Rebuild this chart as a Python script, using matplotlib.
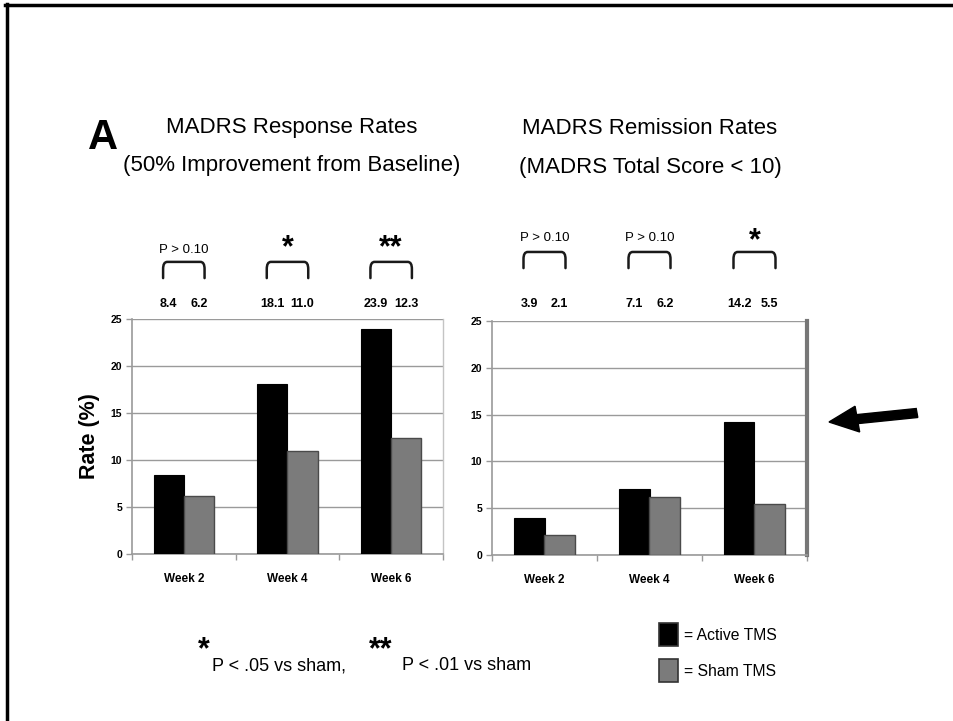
import matplotlib
matplotlib.use("Agg")
import matplotlib.pyplot as plt
import numpy as np
from matplotlib.path import Path
from matplotlib.patches import PathPatch, Rectangle, FancyArrow
from matplotlib.lines import Line2D

plt.rcParams['font.family'] = ['Liberation Sans', 'DejaVu Sans']

weeks = ["Week 2", "Week 4", "Week 6"]
response_active = [8.4, 18.1, 23.9]
response_sham = [6.2, 11.0, 12.3]
remission_active = [3.9, 7.1, 14.2]
remission_sham = [2.1, 6.2, 5.5]
response_sig = ["P > 0.10", "*", "**"]
remission_sig = ["P > 0.10", "P > 0.10", "*"]
yticks = [0, 5, 10, 15, 20, 25]

W, H = 954, 721
fig = plt.figure(figsize=(W / 100, H / 100), dpi=100)


def fx(px):
    return px / W


def fy(py):
    return 1 - py / H


BLACK = "#000000"
GREY = "#7b7b7b"
GRID = "#9a9a9a"


def bracket(ax, x0, x1, ytop, ybot):
    r = 0.04
    rv = 0.03
    verts = [(x0, ybot), (x0, ytop - rv), (x0, ytop), (x0 + r, ytop),
             (x1 - r, ytop), (x1, ytop), (x1, ytop - rv), (x1, ybot)]
    codes = [Path.MOVETO, Path.LINETO, Path.CURVE3, Path.CURVE3,
             Path.LINETO, Path.CURVE3, Path.CURVE3, Path.LINETO]
    p = PathPatch(Path(verts, codes), transform=ax.get_xaxis_transform(),
                  fill=False, lw=1.8, ec="#1a1a1a", clip_on=False,
                  capstyle="round")
    ax.add_patch(p)


def panel(rect, active, sham, sig, val_y, br_top, br_bot, sig_y, star_y,
          thick_right):
    ax = fig.add_axes(rect)
    x = np.arange(len(weeks)) + 0.5
    bw = 0.29
    ax.bar(x - bw / 2, active, bw, color=BLACK, edgecolor=BLACK, lw=0.8,
           zorder=3)
    ax.bar(x + bw / 2, sham, bw, color=GREY, edgecolor="#4a4a4a", lw=1.0,
           zorder=3)
    ax.set_xlim(0, 3)
    ax.set_ylim(0, 25)
    ax.set_yticks(yticks)
    ax.set_yticklabels([str(t) for t in yticks], fontsize=7.5,
                       fontweight="bold")
    ax.yaxis.grid(True, color=GRID, lw=1.0, zorder=0)
    ax.set_axisbelow(True)
    ax.set_xticks(x)
    ax.set_xticklabels(weeks, fontsize=8.5, fontweight="bold")
    ax.set_xticks([0, 1, 2, 3], minor=True)
    ax.tick_params(axis="x", which="major", length=0, pad=14)
    ax.tick_params(axis="x", which="minor", length=4, color=GRID, width=1)
    ax.tick_params(axis="y", length=4, color=GRID, width=1, pad=3)
    for s in ["left", "bottom"]:
        ax.spines[s].set_color(GRID)
        ax.spines[s].set_linewidth(1.2)
    ax.spines["top"].set_visible(False)
    if thick_right:
        ax.spines["right"].set_color("#777777")
        ax.spines["right"].set_linewidth(3)
    else:
        ax.spines["right"].set_color("#c4c4c4")
        ax.spines["right"].set_linewidth(1.0)
    tr = ax.get_xaxis_transform()
    for i in range(len(weeks)):
        ax.text(x[i] - bw / 2, val_y, f"{active[i]:.1f}", transform=tr,
                ha="center", va="center", fontsize=9, fontweight="bold")
        ax.text(x[i] + bw / 2, val_y, f"{sham[i]:.1f}", transform=tr,
                ha="center", va="center", fontsize=9, fontweight="bold")
        bracket(ax, x[i] - 0.2, x[i] + 0.2, br_top, br_bot)
        if sig[i].startswith("P"):
            ax.text(x[i], sig_y, sig[i], transform=tr, ha="center",
                    va="center", fontsize=9.5)
        else:
            ax.text(x[i], star_y, sig[i], transform=tr, ha="center",
                    va="center", fontsize=22, fontweight="bold")
    return ax


ax1 = panel([fx(132), fy(554), fx(443) - fx(132), fy(319) - fy(554)],
            response_active, response_sham, response_sig,
            1.064, 1.243, 1.174, 1.294, 1.30, False)
ax1.set_ylabel("Rate (%)", fontsize=15.5, fontweight="bold", labelpad=8)

ax2 = panel([fx(492), fy(555), fx(807) - fx(492), fy(321) - fy(555)],
            remission_active, remission_sham, remission_sig,
            1.073, 1.295, 1.226, 1.355, 1.34, True)

# headings
fig.text(fx(103), fy(138), "A", fontsize=30, fontweight="bold",
         ha="center", va="center")
fig.text(fx(292), fy(128), "MADRS Response Rates", fontsize=16,
         ha="center", va="center")
fig.text(fx(292), fy(165), "(50% Improvement from Baseline)", fontsize=16,
         ha="center", va="center")
fig.text(fx(650), fy(128), "MADRS Remission Rates", fontsize=16,
         ha="center", va="center")
fig.text(fx(650), fy(168), "(MADRS Total Score < 10)", fontsize=16,
         ha="center", va="center")

# footnotes
fig.text(fx(204), fy(650), "*", fontsize=22, fontweight="bold",
         ha="center", va="center")
fig.text(fx(212), fy(666), "P < .05 vs sham,", fontsize=13,
         ha="left", va="center")
fig.text(fx(381), fy(650), "**", fontsize=22, fontweight="bold",
         ha="center", va="center")
fig.text(fx(402), fy(666), "P < .01 vs sham", fontsize=13,
         ha="left", va="center")

# legend
fig.patches.append(Rectangle((fx(659), fy(646)), fx(678) - fx(659),
                             fy(623) - fy(646), transform=fig.transFigure,
                             facecolor=BLACK, edgecolor="#333333", lw=1.2))
fig.patches.append(Rectangle((fx(659), fy(682)), fx(678) - fx(659),
                             fy(659) - fy(682), transform=fig.transFigure,
                             facecolor=GREY, edgecolor="#333333", lw=1.2))
fig.text(fx(684), fy(635), "= Active TMS", fontsize=11.3, ha="left",
         va="center")
fig.text(fx(684), fy(671), "= Sham TMS", fontsize=11.3, ha="left",
         va="center")

# pointer arrow
fig.patches.append(FancyArrow(fx(917), fy(413), fx(829) - fx(917),
                              fy(422) - fy(413), width=0.0125,
                              head_width=0.036, head_length=0.03,
                              length_includes_head=True,
                              transform=fig.transFigure, color=BLACK))

# slide frame
fig.add_artist(Line2D([fx(5), 1], [fy(5), fy(5)], color=BLACK, lw=2.5,
                      transform=fig.transFigure))
fig.add_artist(Line2D([fx(7.5), fx(7.5)], [fy(4), 0], color=BLACK, lw=2.5,
                      transform=fig.transFigure))

fig.savefig("out.png", dpi=100)
